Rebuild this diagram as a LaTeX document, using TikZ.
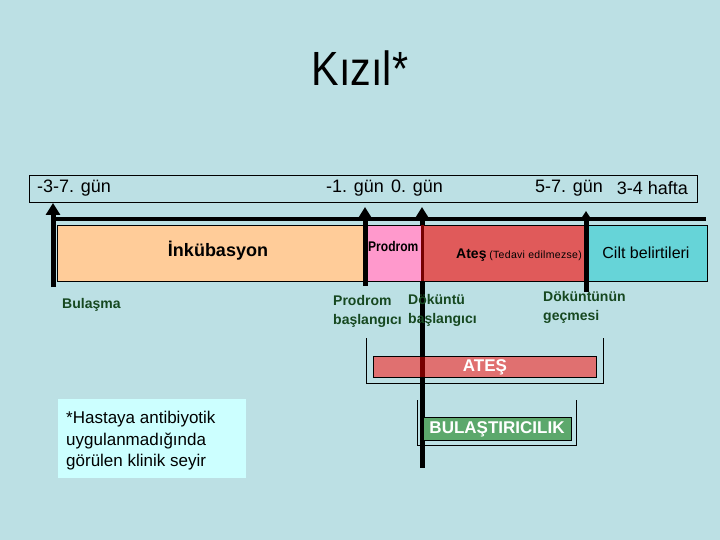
\documentclass[tikz,border=0pt]{standalone}
\usepackage{fontspec}
\setmainfont{Liberation Sans}
\newfontfamily\narrowfont[FakeStretch=0.86]{Liberation Sans}
\usetikzlibrary{arrows.meta}
\definecolor{bg}{RGB}{188,224,228}
\definecolor{incub}{RGB}{255,204,153}
\definecolor{prod}{RGB}{255,153,204}
\definecolor{fever}{RGB}{224,90,90}
\definecolor{skin}{RGB}{102,212,216}
\definecolor{lbl}{RGB}{22,72,32}
\definecolor{atesbar}{RGB}{224,112,112}
\definecolor{bulbar}{RGB}{92,168,108}
\definecolor{note}{RGB}{204,255,255}
\definecolor{darkred}{RGB}{120,0,0}
\tikzset{
  phase/.style={draw=black, line width=0.6pt},
  tl/.style={font=\fontsize{18}{21}\selectfont, inner sep=0pt, anchor=west},
  evt/.style={font=\fontsize{14}{18}\selectfont\bfseries, text=lbl, inner sep=0pt, anchor=west, align=left},
  uparrow/.style={line width=5pt, -{Triangle[width=14pt,length=12pt]}},
  brk/.style={line width=0.8pt},
  barlbl/.style={font=\fontsize{17}{20}\selectfont\bfseries, text=white, inner sep=0pt}
}
\begin{document}
\begin{tikzpicture}[x=1pt,y=-1pt]
\fill[bg] (0,0) rectangle (720,540);
\useasboundingbox (0,0) rectangle (720,540);

% title
\node[font=\fontsize{48}{52}\selectfont\narrowfont, inner sep=0pt] (title) at (360,68) {Kızıl*};

% top time box
\draw[line width=0.8pt] (29,175) rectangle (697,202);
\node[tl] (t1) at (37,188) {-3-7. gün};
\node[tl] (t2) at (326,188) {-1. gün};
\node[tl] (t3) at (391,188) {0. gün};
\node[tl] (t4) at (535,188) {5-7. gün};
\node[tl, anchor=east] (t5) at (688,188) {3-4 hafta};

% phase rectangles
\draw[phase, fill=incub] (57,225) rectangle (365,281);
\draw[phase, fill=prod] (365,225) rectangle (422,281);
\draw[phase, fill=fever] (422,225) rectangle (586,281);
\draw[phase, fill=skin] (586,225) rectangle (707,281);

\node[font=\fontsize{18}{21}\selectfont\bfseries, inner sep=0pt] (inc) at (218,251) {İnkübasyon};
\node[font=\fontsize{14}{15}\selectfont\narrowfont\bfseries, inner sep=0pt, anchor=west] (prl) at (368,246) {Prodrom};
\node[inner sep=0pt, anchor=west] (atl) at (456,255) {{\fontsize{14}{16}\selectfont\bfseries Ateş} {\fontsize{10.5}{12}\selectfont\addfontfeature{LetterSpace=3} (Tedavi edilmezse)}};
\node[font=\fontsize{16}{19}\selectfont, inner sep=0pt] (cilt) at (646,253) {Cilt belirtileri};

% horizontal time line
\draw[line width=3.5pt] (55,219) -- (706,219);

% arrows
\coordinate (a1b) at (53,287); \coordinate (a1t) at (53,203);
\coordinate (a2b) at (365,286); \coordinate (a2t) at (365,207);
\coordinate (a3b) at (422,226); \coordinate (a3t) at (422,207);
\coordinate (a4b) at (586,292); \coordinate (a4t) at (586,211);
\draw[uparrow] (a1b) -- (a1t);
\draw[uparrow] (a2b) -- (a2t);
\draw[uparrow] (a3b) -- (a3t);
\draw[uparrow, -{Triangle[width=11pt,length=9pt]}] (a4b) -- (a4t);
\draw[darkred, line width=3pt] (422,225) -- (422,281);

% long line at day 0
\coordinate (d0t) at (422,281);
\coordinate (d0b) at (422,468);
\draw[line width=5pt] (d0t) -- (d0b);

% event labels
\node[evt] (bul) at (62,305) {Bulaşma};
\node[evt] (prs) at (333,311) {Prodrom\\[1pt]başlangıcı};
\node[evt] (dks) at (408,310) {Döküntü\\[1pt]başlangıcı};
\node[evt] (dkg) at (543,307) {Döküntünün\\[1pt]geçmesi};

% ATES bracket
\draw[brk] (366,338) -- (366,383) -- (603,383) -- (603,338);
\node[draw=black, line width=0.6pt, fill=atesbar, minimum width=223pt, minimum height=21pt, inner sep=0pt] (ates) at (484.5,366.5) {};
\draw[darkred, line width=5pt] (422,356.5) -- (422,376.5);
\node[barlbl] (atest) at (485,367) {ATEŞ};

% BULASTIRICILIK bracket
\draw[brk] (417,400) -- (417,445) -- (576,445) -- (576,400);
\node[draw=black, line width=0.6pt, fill=bulbar, minimum width=148pt, minimum height=23pt, inner sep=0pt] (bulas) at (497,428.5) {};
\node[barlbl] (bulast) at (497,429) {BULAŞTIRICILIK};

% note box
\node[fill=note, minimum width=188pt, minimum height=79pt, inner sep=0pt] (notebox) at (152,438.5) {};
\node[font=\fontsize{17}{21.5}\selectfont, align=left, inner sep=0pt, anchor=west] (notetxt) at (66,441) {*Hastaya antibiyotik\\uygulanmadığında\\görülen klinik seyir};
\end{tikzpicture}
\end{document}
